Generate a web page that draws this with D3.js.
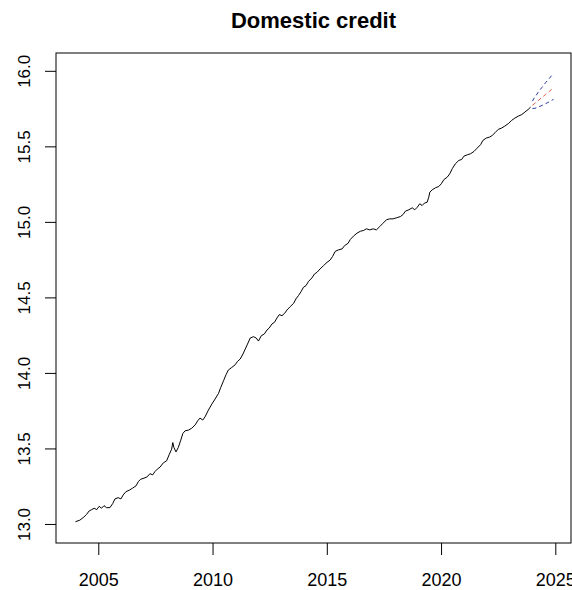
<!DOCTYPE html>
<html>
<head>
<meta charset="utf-8">
<script src="https://cdn.jsdelivr.net/npm/d3@7"></script>
<style>
  body { margin: 0; background: #fff; }
  svg { display: block; }
</style>
</head>
<body>
<div id="chart"></div>
<script>
const histYears = [
  2004.00, 2004.19, 2004.37, 2004.49, 2004.60, 2004.71, 2004.82, 2004.93,
  2005.04, 2005.14, 2005.25, 2005.36, 2005.51, 2005.63, 2005.73, 2005.87, 2005.99,
  2006.09, 2006.21, 2006.35, 2006.50, 2006.65, 2006.75, 2006.85,
  2007.00, 2007.14, 2007.26, 2007.38, 2007.48, 2007.58, 2007.70, 2007.85,
  2007.99, 2008.11, 2008.21, 2008.26, 2008.31, 2008.40, 2008.50, 2008.61, 2008.70, 2008.80, 2008.94,
  2009.09, 2009.24, 2009.35, 2009.45, 2009.57, 2009.67, 2009.82, 2009.97,
  2010.11, 2010.26, 2010.36, 2010.48, 2010.59, 2010.69, 2010.84, 2010.99,
  2011.09, 2011.21, 2011.33, 2011.43, 2011.53, 2011.65, 2011.79, 2011.91,
  2012.01, 2012.13, 2012.27, 2012.38, 2012.48, 2012.60, 2012.71, 2012.82, 2012.92,
  2013.04, 2013.15, 2013.26, 2013.40, 2013.55, 2013.65, 2013.76, 2013.88, 2013.98,
  2014.09, 2014.20, 2014.35, 2014.46, 2014.57, 2014.71, 2014.86,
  2015.01, 2015.15, 2015.25, 2015.37, 2015.52, 2015.67, 2015.78, 2015.93,
  2016.03, 2016.17, 2016.32, 2016.47, 2016.61, 2016.73, 2016.88,
  2017.03, 2017.17, 2017.32, 2017.46, 2017.61, 2017.75, 2017.90,
  2018.05, 2018.22, 2018.34, 2018.44, 2018.59, 2018.74, 2018.85, 2018.96,
  2019.07, 2019.17, 2019.27, 2019.39, 2019.46, 2019.51, 2019.61, 2019.76, 2019.90,
  2020.01, 2020.12, 2020.27, 2020.38, 2020.49, 2020.63, 2020.78, 2020.90,
  2021.00, 2021.15, 2021.29, 2021.44, 2021.58, 2021.73, 2021.83, 2021.98,
  2022.12, 2022.24, 2022.36, 2022.50, 2022.65, 2022.79, 2022.94,
  2023.09, 2023.23, 2023.38, 2023.53, 2023.67, 2023.82, 2023.92
];
const histValues = [
  13.015, 13.025, 13.046, 13.064, 13.086, 13.095, 13.104, 13.095,
  13.117, 13.104, 13.121, 13.108, 13.108, 13.135, 13.166, 13.174, 13.166,
  13.192, 13.214, 13.223, 13.237, 13.252, 13.280, 13.296,
  13.303, 13.312, 13.333, 13.325, 13.347, 13.363, 13.376, 13.405,
  13.418, 13.462, 13.495, 13.539, 13.506, 13.477, 13.506, 13.555, 13.599, 13.617, 13.621,
  13.634, 13.656, 13.683, 13.701, 13.688, 13.709, 13.754, 13.794,
  13.827, 13.864, 13.904, 13.948, 13.988, 14.019, 14.036, 14.054,
  14.076, 14.092, 14.125, 14.158, 14.191, 14.231, 14.240, 14.231,
  14.211, 14.246, 14.258, 14.284, 14.297, 14.324, 14.335, 14.364, 14.386,
  14.379, 14.394, 14.417, 14.439, 14.461, 14.490, 14.512, 14.540, 14.567,
  14.578, 14.606, 14.629, 14.655, 14.666, 14.689, 14.711,
  14.732, 14.748, 14.770, 14.805, 14.815, 14.821, 14.843, 14.858,
  14.884, 14.906, 14.925, 14.938, 14.943, 14.954, 14.947,
  14.954, 14.947, 14.969, 14.991, 15.014, 15.020, 15.020,
  15.027, 15.035, 15.049, 15.071, 15.080, 15.093, 15.080, 15.097,
  15.120, 15.108, 15.124, 15.130, 15.163, 15.197, 15.212, 15.226, 15.234,
  15.252, 15.279, 15.296, 15.318, 15.352, 15.385, 15.407, 15.413,
  15.435, 15.444, 15.451, 15.466, 15.488, 15.511, 15.539, 15.555,
  15.561, 15.572, 15.590, 15.612, 15.621, 15.634, 15.650,
  15.672, 15.687, 15.700, 15.710, 15.727, 15.745, 15.760
];

// 12-month forecast: point forecast and interval bounds
const fcYears = [2024.00, 2024.08, 2024.17, 2024.25, 2024.33, 2024.42,
                 2024.50, 2024.58, 2024.67, 2024.75, 2024.83, 2024.92];
const fcMean  = [15.772, 15.782, 15.792, 15.803, 15.813, 15.824,
                 15.834, 15.845, 15.855, 15.865, 15.876, 15.886];
const fcUpper = [15.799, 15.821, 15.839, 15.858, 15.874, 15.891,
                 15.906, 15.923, 15.937, 15.952, 15.967, 15.981];
const fcLower = [15.751, 15.751, 15.755, 15.760, 15.765, 15.771,
                 15.777, 15.783, 15.790, 15.796, 15.804, 15.811];

const xTicks = [2005, 2010, 2015, 2020, 2025];
const yTicks = [13.0, 13.5, 14.0, 14.5, 15.0, 15.5, 16.0];

const FONT = '"Liberation Sans", Arial, sans-serif';

function renderChart() {
  const width = 572, height = 590;
  const box = { left: 56, right: 571, top: 53, bottom: 543 };

  const svg = d3.select('#chart')
    .append('svg')
    .attr('width', width)
    .attr('height', height);

  // R-style scales (4% padding already folded into the domains)
  const x = d3.scaleLinear()
    .domain([2003.149, 2025.687])
    .range([box.left, box.right]);

  const y = d3.scaleLinear()
    .domain([12.874, 16.118])
    .range([box.bottom, box.top]);

  // Title
  svg.append('text')
    .attr('x', (box.left + box.right) / 2)
    .attr('y', 28)
    .attr('text-anchor', 'middle')
    .attr('font-family', FONT)
    .attr('font-weight', 'bold')
    .attr('font-size', 22)
    .text('Domestic credit');

  // Bottom axis
  const xAxis = d3.axisBottom(x)
    .tickValues(xTicks)
    .tickSize(12)
    .tickFormat(d3.format('d'));

  const gx = svg.append('g')
    .attr('transform', `translate(0, ${box.bottom})`)
    .call(xAxis);
  gx.select('.domain').remove();
  gx.selectAll('line').attr('stroke', '#000');
  gx.selectAll('text')
    .attr('y', 43)
    .attr('dy', 0)
    .attr('fill', '#000')
    .attr('font-family', FONT)
    .attr('font-size', 18);

  // Left axis, labels rotated like R's default las=0
  const yAxis = d3.axisLeft(y)
    .tickValues(yTicks)
    .tickSize(11)
    .tickFormat(d3.format('.1f'));

  const gy = svg.append('g')
    .attr('transform', `translate(${box.left}, 0)`)
    .call(yAxis);
  gy.select('.domain').remove();
  gy.selectAll('line').attr('stroke', '#000');
  gy.selectAll('text')
    .attr('x', 0)
    .attr('dy', 0)
    .attr('text-anchor', 'middle')
    .attr('transform', 'translate(-26.5, 0) rotate(-90)')
    .attr('fill', '#000')
    .attr('font-family', FONT)
    .attr('font-size', 17);

  // Plot frame
  svg.append('rect')
    .attr('x', box.left)
    .attr('y', box.top)
    .attr('width', box.right - box.left)
    .attr('height', box.bottom - box.top)
    .attr('fill', 'none')
    .attr('stroke', '#000')
    .attr('stroke-width', 1);

  const line = (xs, ys) => d3.line()
    .x(i => x(xs[i]))
    .y(i => y(ys[i]))(d3.range(xs.length));

  // Observed series
  svg.append('path')
    .attr('d', line(histYears, histValues))
    .attr('fill', 'none')
    .attr('stroke', '#000')
    .attr('stroke-width', 1);

  // Forecast bounds (blue) and mean (red), dashed
  [fcUpper, fcLower].forEach(vals => {
    svg.append('path')
      .attr('d', line(fcYears, vals))
      .attr('fill', 'none')
      .attr('stroke', '#2a3aa0')
      .attr('stroke-width', 1)
      .attr('stroke-dasharray', '4,3');
  });

  svg.append('path')
    .attr('d', line(fcYears, fcMean))
    .attr('fill', 'none')
    .attr('stroke', '#e0503c')
    .attr('stroke-width', 1)
    .attr('stroke-dasharray', '4,3');
}

document.addEventListener('DOMContentLoaded', renderChart);
</script>
</body>
</html>
